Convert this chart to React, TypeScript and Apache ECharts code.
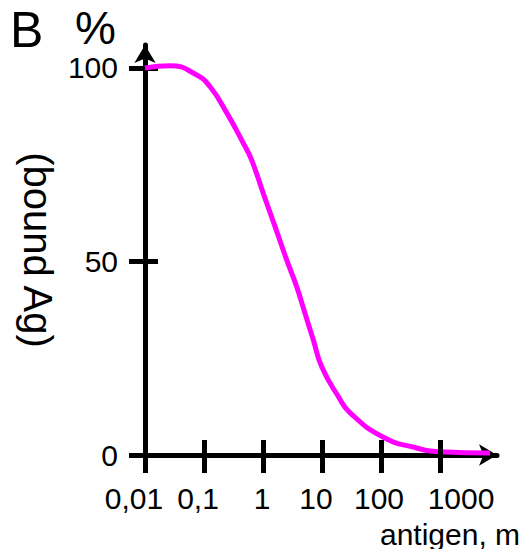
import React, { useEffect, useRef } from 'react';
import * as echarts from 'echarts';

// antigen concentration (log axis) and % bound antigen
const antigenConc = [0.01, 0.0265, 0.0752, 0.126, 0.243, 0.463, 0.643, 1.01, 1.6, 2.52, 3.72, 5.15, 7.13, 9.89, 18.9, 29.9, 108, 403, 1000, 7030];
const boundPct = [100, 100.6, 98.2, 95.2, 88.4, 80.6, 76.2, 67.6, 59.0, 50.4, 43.5, 36.6, 29.7, 22.8, 15.1, 10.9, 4.65, 1.8, 0.85, 0.5];

const xTickValues = [0.01, 0.1, 1, 10, 100, 1000];
const xTickLabels = ['0,01', '0,1', '1', '10', '100', '1000'];
const yTickValues = [0, 50, 100];
const yTickLabels = ['0', '50', '100'];

const panelLabel = 'B';
const yUnit = '%';
const yTitle = '(bound Ag)';
const xTitle = 'antigen, m';

export default function App() {
  const ref = useRef<HTMLDivElement>(null);

  useEffect(() => {
    const chart = echarts.init(ref.current!, null, { renderer: 'svg' });
    const font = '"Liberation Sans", Arial, Helvetica, sans-serif';
    const xLog = xTickValues.map((v) => Math.log10(v));
    const labelShift = [-11, -6, -1, -6, -2, 21];
    const rich: Record<string, any> = {};
    labelShift.forEach((s, i) => {
      rich['s' + i] = {
        fontSize: 30,
        fontFamily: font,
        color: '#000',
        padding: s < 0 ? [0, -2 * s, 0, 0] : [0, 0, 0, 2 * s],
      };
    });
    const xMin = -2;
    const xMax = 3.966;
    const yMax = 105.94;
    const black = '#000';

    const xCommon = {
      type: 'value',
      min: xMin,
      max: xMax,
      position: 'bottom',
      splitLine: { show: false },
    };
    const yCommon = {
      type: 'value',
      min: 0,
      max: yMax,
      position: 'left',
      splitLine: { show: false },
    };

    const option: any = {
      animation: false,
      grid: { left: 145, right: 32, top: 45, bottom: 94, containLabel: false, outerBoundsMode: 'none' },
      xAxis: [
        {
          ...xCommon,
          z: 0,
          axisLine: {
            show: true,
            onZero: false,
            symbol: ['none', 'arrow'],
            symbolSize: [16, 18],
            lineStyle: { color: black, width: 5 },
          },
          axisTick: { show: true, customValues: xLog, length: 18, inside: false, lineStyle: { color: black, width: 5 } },
          axisLabel: {
            show: true,
            customValues: xLog,
            margin: 28,
            fontSize: 30,
            fontFamily: font,
            color: black,
            formatter: (v: number) => {
              const i = xLog.findIndex((t) => Math.abs(t - v) < 1e-6);
              return i < 0 ? '' : `{s${i}|${xTickLabels[i]}}`;
            },
            rich,
          },
        },
        {
          ...xCommon,
          z: 5,
          axisLine: { show: false, onZero: false },
          axisTick: { show: true, customValues: xLog, length: 15, inside: true, lineStyle: { color: black, width: 5 } },
          axisLabel: { show: false },
        },
      ],
      yAxis: [
        {
          ...yCommon,
          z: 0,
          axisLine: {
            show: true,
            onZero: false,
            symbol: ['none', 'arrow'],
            symbolSize: [16, 18],
            lineStyle: { color: black, width: 5 },
          },
          axisTick: { show: true, customValues: yTickValues, length: 16, inside: false, lineStyle: { color: black, width: 5 } },
          axisLabel: {
            show: true,
            customValues: yTickValues,
            margin: 27,
            fontSize: 30,
            fontFamily: font,
            color: black,
            formatter: (v: number) => {
              const i = yTickValues.findIndex((t) => Math.abs(t - v) < 1e-6);
              return i < 0 ? '' : yTickLabels[i];
            },
          },
        },
        {
          ...yCommon,
          z: 0,
          axisLine: { show: false, onZero: false },
          axisTick: { show: true, customValues: yTickValues, length: 13, inside: true, lineStyle: { color: black, width: 5 } },
          axisLabel: { show: false },
        },
      ],
      series: [
        {
          type: 'line',
          xAxisIndex: 0,
          yAxisIndex: 0,
          z: 2,
          data: antigenConc.map((c, i) => [Math.log10(c), boundPct[i]]),
          smooth: 0.5,
          symbol: 'none',
          showSymbol: false,
          clip: false,
          lineStyle: { color: '#ff00ff', width: 5, cap: 'butt' },
        },
      ],
      graphic: [
        {
          type: 'text',
          x: 10,
          y: 30,
          style: { text: panelLabel, fontSize: 50, fontFamily: font, fill: black, align: 'left', verticalAlign: 'middle', textAlign: 'left', textVerticalAlign: 'middle' },
        },
        {
          type: 'text',
          x: 75,
          y: 28,
          style: { text: yUnit, fontSize: 46, fontFamily: font, fill: black, align: 'left', verticalAlign: 'middle', textAlign: 'left', textVerticalAlign: 'middle' },
        },
        {
          type: 'text',
          x: 38,
          y: 250,
          rotation: -Math.PI / 2,
          style: { text: yTitle, fontSize: 40, fontFamily: font, fill: black, align: 'center', verticalAlign: 'middle', textAlign: 'center', textVerticalAlign: 'middle' },
        },
        {
          type: 'text',
          x: 380,
          y: 534,
          style: { text: xTitle, fontSize: 30, fontFamily: font, fill: black, align: 'left', verticalAlign: 'middle', textAlign: 'left', textVerticalAlign: 'middle' },
        },
      ],
    };

    chart.setOption(option);
    return () => {
      chart.dispose();
    };
  }, []);

  return (
    <div
      ref={ref}
      style={{ position: 'fixed', left: 0, top: 0, width: 529, height: 549, background: '#fff' }}
    />
  );
}
